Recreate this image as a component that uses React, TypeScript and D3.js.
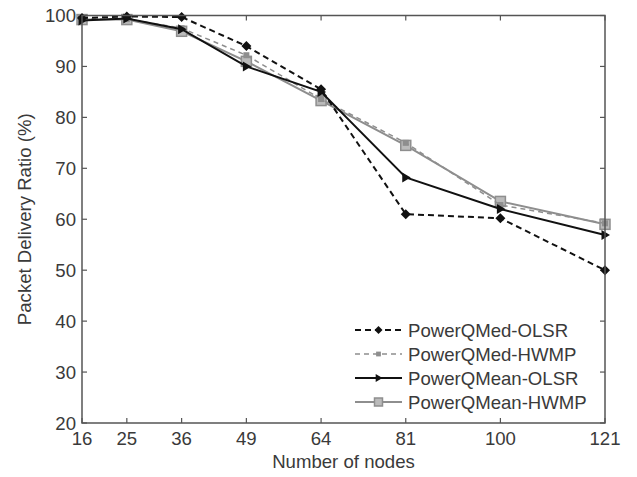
import React from "react";
import * as d3 from "d3";

const nodes = [16, 25, 36, 49, 64, 81, 100, 121];
const medOlsr = [99.5, 99.8, 99.7, 94, 85.5, 61, 60.2, 50];
const medHwmp = [99.3, 99.3, 97.5, 92.2, 83.6, 75, 62.8, 59.2];
const meanOlsr = [99, 99.4, 97.3, 90, 85, 68.2, 62, 56.9];
const meanHwmp = [99.2, 99.2, 96.9, 91, 83.3, 74.5, 63.5, 59];
const yTicks = [20, 30, 40, 50, 60, 70, 80, 90, 100];
const seriesNames = ["PowerQMed-OLSR", "PowerQMed-HWMP", "PowerQMean-OLSR", "PowerQMean-HWMP"];

const W = 637, H = 477;
const L = 82, R = 605, T = 15.5, B = 423;
const FONT = "'Liberation Sans', Arial, sans-serif";
const GRAY = "#8e8e8e";
const FS = 18.6;
const TEXT = "#3a3a3a";

type Style = { color: string; dash: string; width: number; marker: string; size: number };
const styles: Style[] = [
  { color: "#111", dash: "6,4", width: 2, marker: "diamond", size: 5 },
  { color: GRAY, dash: "5,4", width: 1.5, marker: "smallsquare", size: 3 },
  { color: "#111", dash: "", width: 2, marker: "triangle", size: 5 },
  { color: GRAY, dash: "", width: 2, marker: "square", size: 5 },
];

function Marker({ x, y, s, scale = 1 }: { x: number; y: number; s: Style; scale?: number }) {
  const r = s.size * scale;
  if (s.marker === "diamond")
    return <path d={`M${x},${y - r} L${x + r},${y} L${x},${y + r} L${x - r},${y} Z`} fill={s.color} />;
  if (s.marker === "triangle")
    return <path d={`M${x + r},${y} L${x - r * 0.7},${y - r} L${x - r * 0.7},${y + r} Z`} fill={s.color} />;
  if (s.marker === "smallsquare")
    return <rect x={x - r} y={y - r} width={2 * r} height={2 * r} fill={s.color} />;
  return <rect x={x - r} y={y - r} width={2 * r} height={2 * r} fill="#bbb" stroke={s.color} strokeWidth={1.5} />;
}

export default function App() {
  const x = d3.scaleLinear().domain([16, 121]).range([L, R]);
  const y = d3.scaleLinear().domain([20, 100]).range([B, T]);
  const all = [medOlsr, medHwmp, meanOlsr, meanHwmp];
  const line = d3
    .line<number>()
    .x((_, i) => x(nodes[i]))
    .y((d) => y(d));
  const order = [3, 1, 2, 0];
  const axisColor = "#555";
  const tl = 5;
  return (
    <svg width={W} height={H} style={{ position: "absolute", left: 0, top: 0, background: "#fff" }} fontFamily={FONT}>
      <rect x={0} y={0} width={W} height={H} fill="#fff" />
      {nodes.map((n) => (
        <g key={"xt" + n}>
          <line x1={x(n)} x2={x(n)} y1={B} y2={B - tl} stroke={axisColor} strokeWidth={1.2} />
          <line x1={x(n)} x2={x(n)} y1={T} y2={T + tl} stroke={axisColor} strokeWidth={1.2} />
          <text x={x(n)} y={445} fontSize={FS} textAnchor="middle" fill={TEXT}>
            {n}
          </text>
        </g>
      ))}
      {yTicks.map((t) => (
        <g key={"yt" + t}>
          <line x1={L} x2={L + tl} y1={y(t)} y2={y(t)} stroke={axisColor} strokeWidth={1.2} />
          <line x1={R} x2={R - tl} y1={y(t)} y2={y(t)} stroke={axisColor} strokeWidth={1.2} />
          <text x={76} y={y(t) + 6.5} fontSize={FS} textAnchor="end" fill={TEXT}>
            {t}
          </text>
        </g>
      ))}
      {order.map((k) => (
        <g key={"s" + k}>
          <path
            d={line(all[k]) || ""}
            fill="none"
            stroke={styles[k].color}
            strokeWidth={styles[k].width}
            strokeDasharray={styles[k].dash}
          />
          {all[k].map((v, i) => (
            <Marker key={i} x={x(nodes[i])} y={y(v)} s={styles[k]} />
          ))}
        </g>
      ))}
      <rect x={L} y={T} width={R - L} height={B - T} fill="none" stroke={axisColor} strokeWidth={1.5} />
      {seriesNames.map((name, i) => {
        const ly = 330 + i * 24;
        return (
          <g key={"lg" + i}>
            <line
              x1={355}
              x2={402}
              y1={ly}
              y2={ly}
              stroke={styles[i].color}
              strokeWidth={styles[i].width}
              strokeDasharray={styles[i].dash}
            />
            <Marker x={378.5} y={ly} s={styles[i]} scale={0.8} />
            <text x={408} y={ly + 6.5} fontSize={FS} fill={TEXT}>
              {name}
            </text>
          </g>
        );
      })}
      <text x={(L + R) / 2} y={468} fontSize={FS} textAnchor="middle" fill={TEXT}>
        Number of nodes
      </text>
      <text
        transform={`translate(31,${(T + B) / 2}) rotate(-90)`}
        fontSize={FS}
        textAnchor="middle"
        fill={TEXT}
      >
        Packet Delivery Ratio (%)
      </text>
    </svg>
  );
}
